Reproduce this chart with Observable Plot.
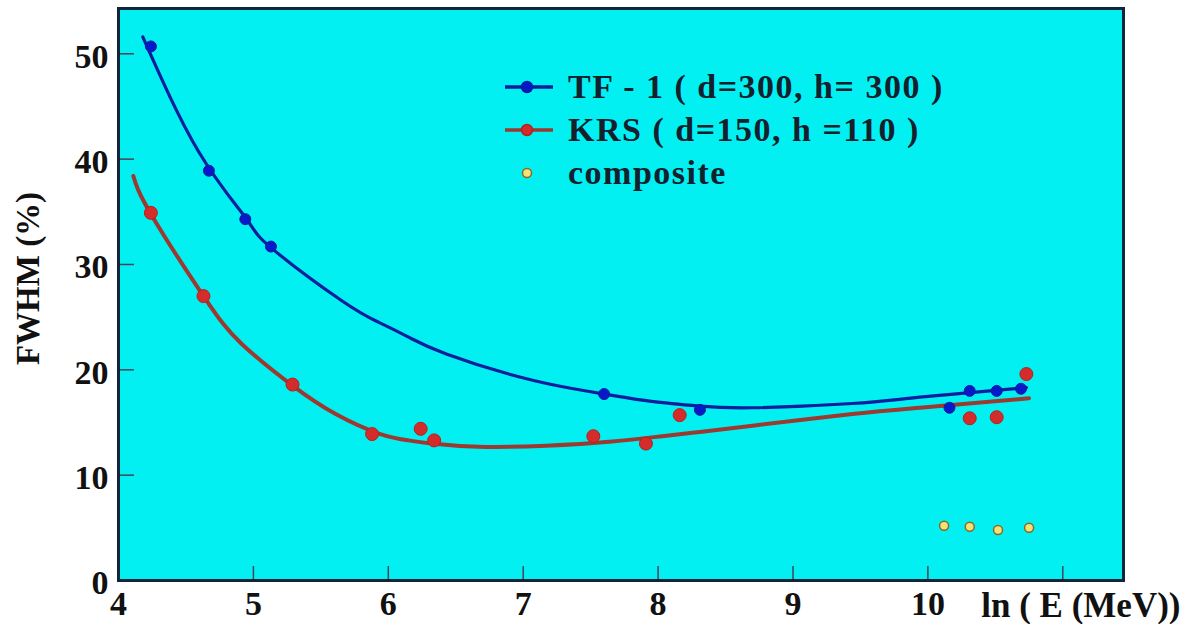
<!DOCTYPE html>
<html>
<head>
<meta charset="utf-8">
<script src="https://cdn.jsdelivr.net/npm/d3@7"></script>
<script src="https://cdn.jsdelivr.net/npm/@observablehq/plot@0.6"></script>
<style>
  html, body { margin: 0; padding: 0; background: #fff; }
  #wrap { position: relative; width: 1189px; height: 624px; overflow: hidden; }
  .lg { position: absolute; left: 500px; height: 40px; display: flex; align-items: center;
        font-family: "Liberation Serif", serif; font-weight: bold;
        font-size: 34px; letter-spacing: 1.5px; color: #14202c; white-space: nowrap; }
  .lg svg { width: 68px; height: 40px; flex: none; }
</style>
</head>
<body>
<div id="wrap"></div>
<script>
// ---- data ----
const xTicks = [4, 5, 6, 7, 8, 9, 10, 11];
const yTicks = [0, 10, 20, 30, 40, 50];
const xLabel = "ln ( E (MeV))";
const yLabel = "FWHM (%)";
const seriesNames = ["TF - 1 ( d=300, h= 300 )", "KRS ( d=150, h =110 )", "composite"];

// TF-1 measured points
const tfX = [4.24, 4.67, 4.94, 5.13, 7.60, 8.31, 10.16, 10.31, 10.51, 10.69];
const tfY = [50.7, 38.9, 34.3, 31.7, 17.7, 16.2, 16.4, 18.0, 18.0, 18.2];
// TF-1 fitted curve
const tfFitX = [4.18, 4.59, 4.95, 5.13, 5.65, 5.93, 6.15, 6.43, 7.04, 7.60, 7.95, 8.31, 8.70, 9.44, 9.94, 10.73];
const tfFitY = [51.6, 40.8, 34.3, 31.6, 26.6, 24.5, 23.1, 21.5, 19.1, 17.7, 17.0, 16.55, 16.4, 16.8, 17.4, 18.3];

// KRS measured points
const krsX = [4.24, 4.63, 5.29, 5.88, 6.24, 6.34, 7.52, 7.91, 8.16, 10.31, 10.51, 10.73];
const krsY = [34.9, 27.0, 18.6, 13.9, 14.4, 13.3, 13.7, 13.0, 15.7, 15.4, 15.5, 19.6];
// KRS fitted curve
const krsFitX = [4.11, 4.24, 4.63, 4.91, 5.29, 5.61, 5.93, 6.15, 6.32, 6.67, 7.17, 7.66, 8.03, 8.31, 8.70, 9.44, 9.94, 10.75];
const krsFitY = [38.4, 34.8, 27.0, 22.5, 18.5, 15.8, 13.95, 13.3, 13.0, 12.7, 12.8, 13.2, 13.7, 14.1, 14.7, 15.8, 16.4, 17.3];

// composite points
const compX = [10.12, 10.31, 10.52, 10.75];
const compY = [5.2, 5.1, 4.8, 5.0];

// ---- styles ----
const C = {
  bg: "#03f0f3", frame: "#10243a",
  tfLine: "#0b1f9c", tfDot: "#0719c9",
  krsLine: "#9a3a30", krsDot: "#d42b2b", krsDotStroke: "#b3221f",
  compFill: "#f2e27a", compStroke: "#8a6a22"
};

const zip = (xs, ys) => xs.map((x, i) => ({x, y: ys[i]}));
const tf = zip(tfX, tfY), tfFit = zip(tfFitX, tfFitY);
const krs = zip(krsX, krsY), krsFit = zip(krsFitX, krsFitY);
const comp = zip(compX, compY);

const font = "'Liberation Serif', serif";

const chart = Plot.plot({
  width: 1189, height: 624,
  marginLeft: 118, marginRight: 66, marginTop: 8, marginBottom: 44,
  style: {background: "#fff", fontFamily: font, fontWeight: "bold", fontSize: "34px", color: "#111"},
  x: {domain: [4, 11.45]},
  y: {domain: [0, 54.3]},
  marks: [
    Plot.frame({fill: C.bg}),
    Plot.line(tfFit, {x: "x", y: "y", curve: "natural", stroke: C.tfLine, strokeWidth: 3.2}),
    Plot.line(krsFit, {x: "x", y: "y", curve: "natural", stroke: C.krsLine, strokeWidth: 4}),
    Plot.dot(tf, {x: "x", y: "y", r: 5.5, fill: C.tfDot, stroke: C.tfLine, strokeWidth: 1}),
    Plot.dot(krs, {x: "x", y: "y", r: 6.5, fill: C.krsDot, stroke: C.krsDotStroke, strokeWidth: 1}),
    Plot.dot(comp, {x: "x", y: "y", r: 4.5, fill: C.compFill, stroke: C.compStroke, strokeWidth: 1.5}),
    // inward ticks
    Plot.axisX({ticks: xTicks, tickSize: -14, tickFormat: () => "", stroke: "#445", strokeWidth: 1.5, label: null}),
    Plot.axisY({ticks: yTicks, tickSize: -16, tickFormat: () => "", stroke: "#445", strokeWidth: 1.5, label: null}),
    // tick labels
    Plot.axisX({ticks: xTicks, tickSize: 0, tickPadding: 10, tickFormat: d => d === 11 ? "" : String(d), label: null, fill: "#111"}),
    Plot.axisY({ticks: yTicks, tickSize: 0, tickPadding: 10, dy: 3, label: null, fill: "#111"}),
    Plot.frame({stroke: C.frame, strokeWidth: 3}),
    Plot.text([xLabel], {frameAnchor: "bottom-right", dx: 57, dy: 25, textAnchor: "end", lineAnchor: "middle", fontSize: 35, fill: "#111"}),
    Plot.text([yLabel], {frameAnchor: "left", rotate: -90, dx: -90, dy: -16, textAnchor: "middle", lineAnchor: "middle", fontSize: 33, fill: "#111"})
  ]
});

const wrap = document.getElementById("wrap");
wrap.appendChild(chart);

// ---- legend (inside the plot area) ----
const legendRows = [
  {label: seriesNames[0], top: 67, line: C.tfLine, dot: C.tfDot, dotStroke: C.tfLine, r: 5.5},
  {label: seriesNames[1], top: 110, line: C.krsLine, dot: C.krsDot, dotStroke: C.krsDotStroke, r: 5.5},
  {label: seriesNames[2], top: 153, line: null, dot: C.compFill, dotStroke: C.compStroke, r: 4.5}
];
for (const row of legendRows) {
  const div = document.createElement("div");
  div.className = "lg";
  div.style.top = row.top + "px";
  const lineSvg = row.line ? `<line x1="5" x2="53" y1="20" y2="20" stroke="${row.line}" stroke-width="3.5"/>` : "";
  div.innerHTML = `<svg viewBox="0 0 68 40">${lineSvg}<circle cx="27" cy="20" r="${row.r}" fill="${row.dot}" stroke="${row.dotStroke}" stroke-width="1.5"/></svg><span>${row.label}</span>`;
  wrap.appendChild(div);
}
</script>
</body>
</html>
